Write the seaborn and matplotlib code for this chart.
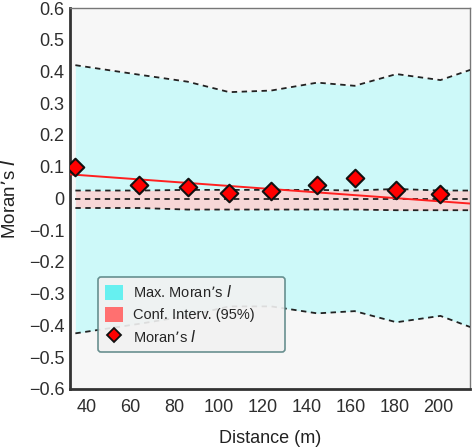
import numpy as np
import pandas as pd
import matplotlib
matplotlib.use("Agg")
import matplotlib.pyplot as plt
import seaborn as sns
from matplotlib.patches import Patch
from matplotlib.lines import Line2D

# Moran's I per distance class
distance = [35, 64, 86, 105, 124, 145, 162, 181, 201]
morans_i = [0.100, 0.044, 0.035, 0.016, 0.022, 0.044, 0.063, 0.028, 0.015]

# envelope of max Moran's I (symmetric) and 95% confidence band
band_dist = [35, 64, 86, 105, 124, 145, 162, 181, 201, 214.5]
max_upper = [0.420, 0.390, 0.368, 0.335, 0.340, 0.365, 0.355, 0.392, 0.373, 0.405]
max_lower = [-0.425, -0.395, -0.370, -0.340, -0.340, -0.362, -0.355, -0.390, -0.370, -0.405]
ci_upper = [0.025, 0.025, 0.027, 0.027, 0.027, 0.027, 0.025, 0.030, 0.025, 0.025]
ci_mid = [-0.002, -0.002, -0.002, -0.002, -0.002, -0.002, -0.002, -0.002, -0.002, -0.002]
ci_lower = [-0.030, -0.030, -0.035, -0.035, -0.035, -0.035, -0.035, -0.037, -0.037, -0.037]

# trend line end points
trend_x = [32.5, 214.5]
trend_y = [0.076, -0.016]

sns.set_style("white")
plt.rcParams['font.family'] = ['Liberation Sans', 'DejaVu Sans']

fig = plt.figure(figsize=(4.72, 4.47), dpi=100)
ax = fig.add_axes([0.148, 0.130, 0.848, 0.852])
ax.set_facecolor("#f7f7f7")

ax.fill_between(band_dist, max_lower, max_upper, color="#cdf9f9", lw=0, zorder=1)
ax.fill_between(band_dist, ci_lower, ci_upper, color="#f7d6d6", lw=0, zorder=2)

dash = dict(color="#222222", lw=1.3, dashes=(3, 2.5), legend=False, zorder=3)
for vals in [max_upper, max_lower, ci_upper, ci_mid, ci_lower]:
    sns.lineplot(x=band_dist, y=vals, ax=ax, **dash)

sns.lineplot(x=trend_x, y=trend_y, ax=ax, color="#ff1f1f", lw=1.4, zorder=4, legend=False)
sns.scatterplot(x=distance, y=morans_i, ax=ax, marker="D", s=80, color="#ff0000",
                edgecolor="#111111", linewidth=1.5, zorder=5, legend=False)

ax.set_xlim(32.5, 214.5)
ax.set_ylim(-0.6, 0.6)
ax.set_xticks(range(40, 201, 20))
yt = np.round(np.arange(-0.6, 0.61, 0.1), 1)
ax.set_yticks(yt)
ax.set_yticklabels(["0" if v == 0 else f"{v:.1f}".replace("-", "\u2212") for v in yt])
ax.tick_params(axis="both", length=0, labelsize=13, labelcolor="#2e2e2e")
ax.tick_params(axis="x", pad=7)
ax.tick_params(axis="y", pad=4)

ax.set_xlabel("Distance (m)", fontsize=13, color="#222222", labelpad=10)
ax.set_ylabel("Moran\u2019s $\\it{I}$", fontsize=13.5, color="#222222", labelpad=7)

for s in ["left", "bottom"]:
    ax.spines[s].set_color("#333333")
    ax.spines[s].set_linewidth(2)
for s in ["top", "right"]:
    ax.spines[s].set_color("#777777")
    ax.spines[s].set_linewidth(1)

handles = [
    Patch(facecolor="#66f0f0", edgecolor="none"),
    Patch(facecolor="#ff7070", edgecolor="none"),
    Line2D([], [], marker="D", ls="none", markersize=7, markerfacecolor="#ff0000",
           markeredgecolor="#111111", markeredgewidth=1.3),
]
labels = ["Max. Moran\u2019s $\\it{I}$", "Conf. Interv. (95%)", "Moran\u2019s $\\it{I}$"]
leg = ax.legend(handles, labels, loc="lower left", bbox_to_anchor=(0.07, 0.097, 0.4675, 0.19),
                mode="expand", borderaxespad=0, fontsize=10.5, frameon=True, fancybox=True,
                handlelength=1.2, handleheight=1.2, borderpad=0.5, labelspacing=0.45,
                handletextpad=0.7)
leg.get_frame().set_facecolor("#f2f2f2")
leg.get_frame().set_edgecolor("#5a8585")
leg.get_frame().set_linewidth(1.2)
leg.get_frame().set_alpha(0.9)
leg.set_zorder(6)

fig.savefig("out.png", dpi=100)
